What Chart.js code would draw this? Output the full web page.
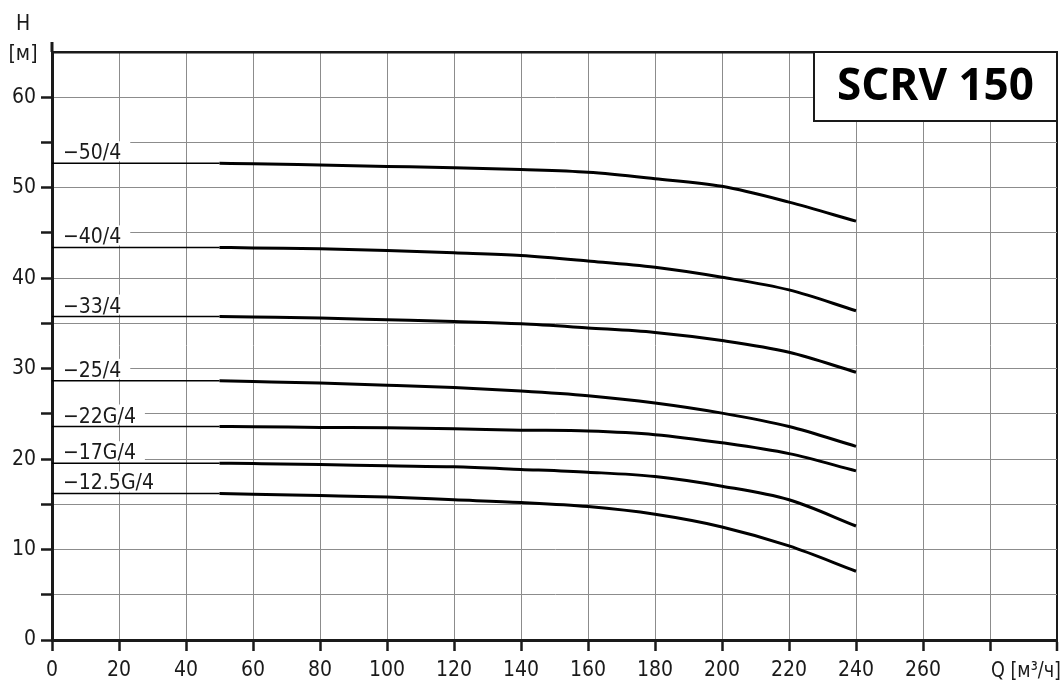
<!DOCTYPE html>
<html>
  <head>
    <title>SCRV 150</title>
    <script src="https://cdn.jsdelivr.net/npm/chart.js@4.4.0/dist/chart.umd.min.js"></script>
    <style>
      html, body {
        margin: 0;
        padding: 0;
        background: #fff;
      }

      .chart-box {
        position: relative;
        width: 1064px;
        height: 682px;
      }
    </style>
  </head>
  <body>
    <div class="chart-box"><canvas id="pump-chart"></canvas></div>

    <script>
      // values
      const flowQ = [50, 60, 80, 100, 120, 140, 160, 180, 200, 220, 240];
      const leadQ = [0, 50];
      const curveNames = ["−50/4", "−40/4", "−33/4", "−25/4", "−22G/4", "−17G/4", "−12.5G/4"];
      const head50 = [52.7, 52.65, 52.5, 52.35, 52.2, 52.0, 51.7, 51.0, 50.15, 48.4, 46.3];
      const head40 = [43.4, 43.33, 43.25, 43.06, 42.8, 42.5, 41.9, 41.2, 40.1, 38.7, 36.4];
      const head33 = [35.75, 35.7, 35.6, 35.4, 35.2, 34.95, 34.5, 34.0, 33.1, 31.8, 29.6];
      const head25 = [28.65, 28.57, 28.4, 28.17, 27.9, 27.52, 27.0, 26.2, 25.08, 23.6, 21.4];
      const head22 = [23.6, 23.58, 23.5, 23.45, 23.34, 23.2, 23.1, 22.7, 21.8, 20.6, 18.7];
      const head17 = [19.54, 19.5, 19.4, 19.25, 19.14, 18.86, 18.55, 18.07, 17.0, 15.5, 12.6];
      const head12 = [16.2, 16.1, 15.96, 15.8, 15.5, 15.2, 14.75, 13.9, 12.5, 10.4, 7.6];
      const headSeries = [head50, head40, head33, head25, head22, head17, head12];

      const xMax = 300;
      const xStep = 20;
      const xLastLabel = 260;
      const yMax = 65;
      const yStep = 5;
      const flowLabel = "Q [м³/ч]";
      const headLabel = ["H", "[м]"];
      const modelName = "SCRV 150";

      const FONT = "'Liberation Sans Narrow', 'DejaVu Sans Condensed', 'Roboto Condensed', sans-serif";
      const INK = "#1a1a1a";
      const GRID = "#8c8c8c";

      const datasets = [];
      headSeries.forEach((heads, i) => {
        // thin lead-in line from the axis
        datasets.push({
          label: curveNames[i] + " lead",
          data: leadQ.map((q) => ({ x: q, y: heads[0] })),
          borderColor: "#000",
          borderWidth: 1.5,
          pointRadius: 0,
        });
        datasets.push({
          label: curveNames[i],
          data: flowQ.map((q, j) => ({ x: q, y: heads[j] })),
          borderColor: "#000",
          borderWidth: 3,
          pointRadius: 0,
          cubicInterpolationMode: "monotone",
        });
      });

      const decor = {
        id: "decor",
        beforeDatasetsDraw(chart) {
          const { ctx, chartArea, scales } = chart;
          ctx.save();
          ctx.font = "21px " + FONT;
          ctx.textBaseline = "alphabetic";
          headSeries.forEach((heads, i) => {
            const y = scales.y.getPixelForValue(heads[0]) - 4;
            const x = chartArea.left + 11;
            const w = ctx.measureText(curveNames[i]).width;
            ctx.fillStyle = "#fff";
            ctx.fillRect(chartArea.left + 2, y - 18, w + 18, 20);
            ctx.fillStyle = INK;
            ctx.fillText(curveNames[i], x, y);
          });
          ctx.restore();
        },
        afterDraw(chart) {
          const { ctx, chartArea, scales } = chart;
          ctx.save();

          // axis stub above the frame
          ctx.strokeStyle = INK;
          ctx.lineWidth = 3;
          ctx.beginPath();
          ctx.moveTo(chartArea.left, chartArea.top);
          ctx.lineTo(chartArea.left, chartArea.top - 10);
          ctx.stroke();

          // axis captions
          ctx.fillStyle = INK;
          ctx.font = "21px " + FONT;
          ctx.textAlign = "center";
          ctx.textBaseline = "alphabetic";
          ctx.fillText(headLabel[0], 23, 30);
          ctx.fillText(headLabel[1], 23, 60);

          // flow caption squeezed into the gap after the 280 tick
          ctx.textAlign = "left";
          const qx = scales.x.getPixelForValue(280) + 1;
          const room = chart.width - qx - 3;
          const qw = ctx.measureText(flowLabel).width;
          const sx = Math.min(1, room / qw);
          ctx.save();
          ctx.translate(qx, 677);
          ctx.scale(sx, 1);
          ctx.fillText(flowLabel, 0, 0);
          ctx.restore();

          // model box
          const bw = 243;
          const bh = 69;
          const bx = chartArea.right - bw;
          const by = chartArea.top;
          ctx.fillStyle = "#fff";
          ctx.fillRect(bx, by, bw, bh);
          ctx.strokeStyle = INK;
          ctx.lineWidth = 2;
          ctx.strokeRect(bx, by, bw, bh);
          ctx.fillStyle = "#000";
          ctx.font = "bold 44px 'Open Sans', sans-serif";
          ctx.textAlign = "center";
          ctx.textBaseline = "middle";
          ctx.fillText(modelName, bx + bw / 2, by + bh / 2 + 1);

          ctx.restore();
        },
      };

      new Chart("pump-chart", {
        type: "line",
        data: { datasets: datasets },
        plugins: [decor],
        options: {
          responsive: true,
          maintainAspectRatio: false,
          animation: false,
          layout: { padding: { top: 52, right: 6, left: 0, bottom: 0 } },
          plugins: {
            legend: { display: false },
            tooltip: { enabled: false },
          },
          scales: {
            x: {
              type: "linear",
              min: 0,
              max: xMax,
              afterFit: (s) => {
                s.height = 42;
              },
              ticks: {
                stepSize: xStep,
                autoSkip: false,
                maxRotation: 0,
                padding: 7,
                color: INK,
                font: { family: FONT, size: 21 },
                callback: (v) => (v <= xLastLabel ? v : ""),
              },
              grid: {
                color: (c) => (c.tick && c.tick.value === xMax ? INK : GRID),
                lineWidth: (c) => (c.tick && c.tick.value === xMax ? 2 : 1),
                tickLength: 11,
                tickColor: INK,
                tickWidth: 2.5,
              },
              border: { color: INK, width: 3 },
            },
            y: {
              min: 0,
              max: yMax,
              afterFit: (s) => {
                s.width = 52;
              },
              ticks: {
                stepSize: yStep,
                autoSkip: false,
                padding: 5,
                color: INK,
                font: { family: FONT, size: 21 },
                callback: (v) => (v % 10 === 0 ? v : ""),
              },
              grid: {
                color: (c) => (c.tick && c.tick.value === yMax ? INK : GRID),
                lineWidth: (c) => (c.tick && c.tick.value === yMax ? 2.5 : 1),
                tickLength: 11,
                tickColor: (c) => (c.tick && c.tick.value === yMax ? "rgba(0,0,0,0)" : INK),
                tickWidth: 2.5,
              },
              border: { color: INK, width: 3 },
            },
          },
        },
      });
    </script>
  </body>
</html>
